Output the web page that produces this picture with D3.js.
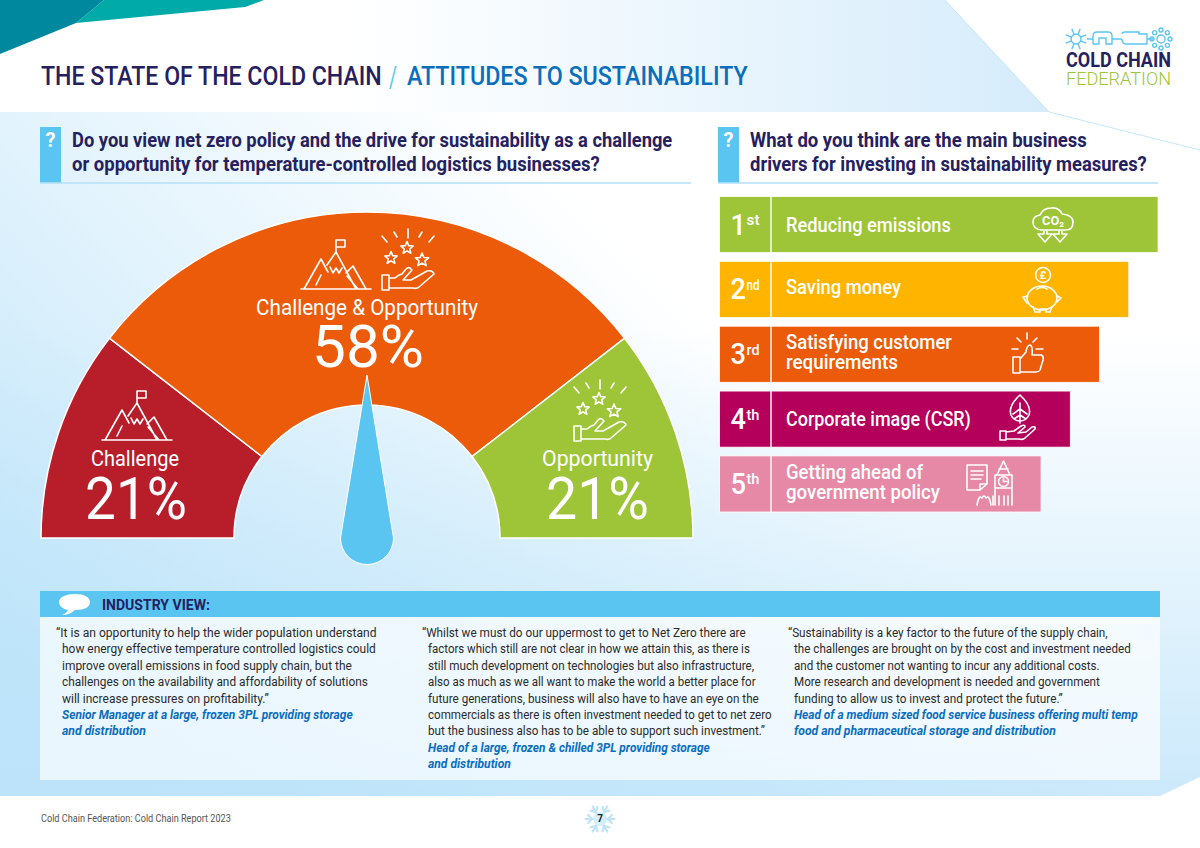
<!DOCTYPE html>
<html><head><meta charset="utf-8">
<script src="https://cdnjs.cloudflare.com/ajax/libs/d3/7.8.5/d3.min.js"></script>
<style>html,body{margin:0;padding:0;background:#fff;overflow:hidden}svg{display:block}text{font-family:Roboto,"Noto Sans",sans-serif}</style>
</head><body><svg id="c" width="1200" height="848"></svg>
<script>
// ---------- DATA ----------
const gaugeLabels = ["Challenge", "Challenge & Opportunity", "Opportunity"];
const gaugeValues = [21, 58, 21];
const gaugeColors = ["#b81d2a", "#eb5b0a", "#9dc537"];
const driverRanks = ["1", "2", "3", "4", "5"];
const driverSuffix = ["st", "nd", "rd", "th", "th"];
const driverLabels = [["Reducing emissions"], ["Saving money"], ["Satisfying customer", "requirements"], ["Corporate image (CSR)"], ["Getting ahead of", "government policy"]];
const driverScores = [15, 14, 13, 12, 11];
const driverColors = ["#9dc537", "#ffb500", "#eb5b0a", "#b5005b", "#e689a6"];
const quoteLines = [
 ["\u201CIt is an opportunity to help the wider population understand","how energy effective temperature controlled logistics could","improve overall emissions in food supply chain, but the","challenges on the availability and affordability of solutions","will increase pressures on profitability.\u201D"],
 ["\u201CWhilst we must do our uppermost to get to Net Zero there are","factors which still are not clear in how we attain this, as there is","still much development on technologies but also infrastructure,","also as much as we all want to make the world a better place for","future generations, business will also have to have an eye on the","commercials as there is often investment needed to get to net zero","but the business also has to be able to support such investment.\u201D"],
 ["\u201CSustainability is a key factor to the future of the supply chain,","the challenges are brought on by the cost and investment needed","and the customer not wanting to incur any additional costs.","More research and development is needed and government","funding to allow us to invest and protect the future.\u201D"]
];
const quoteAuthors = [
 ["Senior Manager at a large, frozen 3PL providing storage","and distribution"],
 ["Head of a large, frozen & chilled 3PL providing storage","and distribution"],
 ["Head of a medium sized food service business offering multi temp","food and pharmaceutical storage and distribution"]
];
// ---------- LAYOUT (measured widths, separate from data) ----------
const quoteWidths = [[321,314,290,306,207],[324,322,326,328,331,344,337],[320,337,306,306,269]];
const authorWidths = [[291,84],[282,83],[344,262]];
const quoteX = [56,422,788];
const driverWidths = [[165],[115],[166,112],[185],[137,154]];
const driverLabelDy = [7,5,5,7,5];

const NAVY="#25215f", SKY="#5bc5f2", BLUE="#0a6ebd";
const svg=d3.select("#c");
const defs=svg.append("defs");
function lin(id,x1,y1,x2,y2,stops){const g=defs.append("linearGradient").attr("id",id).attr("gradientUnits","userSpaceOnUse").attr("x1",x1).attr("y1",y1).attr("x2",x2).attr("y2",y2);
 stops.forEach(s=>g.append("stop").attr("offset",s[0]).attr("stop-color",s[1]).attr("stop-opacity",s[2]));}
lin("gTop",350,0,1040,0,[[0,"#ffffff",1],[1,"#d6ecfb",1]]);
lin("gV",0,800,0,330,[[0,"#cbe9fb",1],[1,"#cbe9fb",0]]);
lin("gH",0,640,520,130,[[0,"#b9e2f9",.85],[1,"#b9e2f9",0]]);
const mainPoly="0,112 1049,112 1200,150 1200,777 1160,796 0,796";
svg.append("rect").attr("width",1200).attr("height",848).attr("fill","#fff");
svg.append("polygon").attr("points","0,0 945,0 1049,112 0,112").attr("fill","url(#gTop)");
svg.append("polygon").attr("points",mainPoly).attr("fill","url(#gV)");
svg.append("polygon").attr("points",mainPoly).attr("fill","url(#gH)");
svg.append("polyline").attr("points","945,0 1049,112 1200,150").attr("fill","none").attr("stroke","#c4e6f9").attr("stroke-width",1);
svg.append("polygon").attr("points","0,0 104,0 76,23 0,54").attr("fill","#00889f");
svg.append("polygon").attr("points","104,0 264,0 245,7 76,23").attr("fill","#00aaa8");

function txt(p,s,x,y,size,w,o={}){
 const t=p.append("text").attr("font-size",size).attr("fill",o.fill||NAVY)
  .attr("font-weight",o.weight||400).attr("text-anchor",o.anchor||"start").text(s);
 if(o.italic)t.attr("font-style","italic");
 const sx=w?w/t.node().getComputedTextLength():1;
 t.attr("transform",`translate(${x},${y}) scale(${sx},1)`);
 return t;
}
// ---------- Title ----------
txt(svg,"THE STATE OF THE COLD CHAIN",41,85,26.5,341,{weight:500});
txt(svg,"/",389,87,29,8,{fill:SKY,weight:400});
txt(svg,"ATTITUDES TO SUSTAINABILITY",407,85,26.5,341,{fill:BLUE,weight:500});
// ---------- Logo ----------
function logo(){
 const g=svg.append("g").attr("fill","none").attr("stroke",SKY).attr("stroke-width",1.4);
 const fl=(cx,cy,r,n)=>{for(let i=0;i<n;i++){const a=i*2*Math.PI/n+Math.PI/8;g.append("line").attr("x1",cx+Math.cos(a)*r*.45).attr("y1",cy+Math.sin(a)*r*.45).attr("x2",cx+Math.cos(a)*r).attr("y2",cy+Math.sin(a)*r);}
  g.append("circle").attr("cx",cx).attr("cy",cy).attr("r",r*.45);};
 fl(1076,39,11,8);
 [0,1,2,3,4,5,6,7].forEach(i=>{const a=i*Math.PI/4;g.append("circle").attr("cx",1161+Math.cos(a)*9).attr("cy",39+Math.sin(a)*9).attr("r",2);});
 g.append("circle").attr("cx",1161).attr("cy",39).attr("r",4);
 g.append("path").attr("d","M1087,39H1093M1093,44V36Q1093,32 1097,32H1108Q1112,32 1112,36V44H1106V38H1099V44H1093M1112,39H1122M1122,34Q1122,32 1125,32H1139V34H1147V44H1126Q1122,44 1122,39M1147,39H1153");
 txt(svg,"COLD CHAIN",1066,67,19.5,105,{weight:700});
 txt(svg,"FEDERATION",1066,85,19,105,{fill:"#9dc537",weight:300});
}
logo();
// ---------- Question headers ----------
function question(x,xEnd,tx,lines,widths){
 svg.append("rect").attr("x",x).attr("y",127).attr("width",21).attr("height",56).attr("fill",SKY);
 svg.append("line").attr("x1",x).attr("x2",xEnd).attr("y1",183).attr("y2",183).attr("stroke","#b5e1f8").attr("stroke-width",1.5);
 txt(svg,"?",x+10.5,147,20,null,{fill:"#fff",weight:700,anchor:"middle"});
 lines.forEach((l,i)=>txt(svg,l,tx,147+i*24,19.5,widths[i],{weight:700}));
}
question(40,691,72,["Do you view net zero policy and the drive for sustainability as a challenge","or opportunity for temperature-controlled logistics businesses?"],[601,528]);
question(718,1158,750,["What do you think are the main business","drivers for investing in sustainability measures?"],[337,397]);
// ---------- Icons ----------
function ic(x,y,s){return svg.append("g").attr("transform",`translate(${x},${y}) scale(${s})`).attr("fill","none").attr("stroke","#fff").attr("stroke-width",1.6/s).attr("stroke-linejoin","round").attr("stroke-linecap","round");}
function star(g,cx,cy,r){const p=[];for(let i=0;i<10;i++){const a=-Math.PI/2+i*Math.PI/5,q=i%2?r*.45:r;p.push([cx+Math.cos(a)*q,cy+Math.sin(a)*q]);}g.append("path").attr("d",d3.line()(p)+"Z");}
function mountain(x,y){const g=ic(x,y,1);
 g.append("path").attr("d","M1,49H71M4,49L21,19L28,32M21,35L16,45M27,25L36,12L56,49M30,27L33,33L36,28L39,33L42,28M46,33L53,26L66,49M47,36L58,49M36,12V0H45V7H36");}
function hand(x,y){const g=ic(x,y,1);
 g.append("path").attr("d","M27,0V9M13,3L16,8M41,3L38,8M1,7L6,13M53,7L48,13");
 star(g,26,19,6.5);star(g,10,29,6.5);star(g,41,31,7);
 g.append("path").attr("d","M1,46H8V61H1ZM8,49H14Q17,46 21,45L25,40Q27,38 29,39L31,41L22,51H30L46,42Q52,41 53,45L38,58Q36,60 32,59H8");
}
function cloud(){const g=ic(1033,207,1);
 g.append("path").attr("d","M8,23Q0,22 0,15Q0,9 7,8Q10,1 18,1Q26,0 29,7Q40,8 40,15Q40,23 33,23Z");
 g.append("path").attr("d","M11,24V27H5L12,35L19,27H14V24M26,24V27H20L27,35L34,27H29V24");
 txt(g,"CO\u2082",20,18,12,22,{fill:"#fff",weight:700,anchor:"middle"}).attr("stroke","none");
}
function piggy(){const g=ic(1023,267,1);
 g.append("circle").attr("cx",20).attr("cy",8).attr("r",7.5);
 txt(g,"\u00A3",20,12,11,null,{fill:"#fff",weight:700,anchor:"middle"}).attr("stroke","none");
 g.append("ellipse").attr("cx",19).attr("cy",31).attr("rx",15).attr("ry",12);
 g.append("path").attr("d","M14,22Q19,19 24,22M5,29L0,30L4,36M34,29L38,31L34,35M10,40L12,45H17V42H23V45H27L29,40");
}
function thumb(){const g=ic(1012,333,1);
 g.append("path").attr("d","M15,0V6M5,5L9,9M25,5L21,9M0,16H6M24,16H31");
 g.append("path").attr("d","M1,24H8V40H1ZM8,26L14,19Q15,12 18,12Q21,13 20,22H29Q32,23 31,27L28,37Q27,39 24,39H8");
}
function leaf(){const g=ic(999,395,1);
 g.append("path").attr("d","M21,0Q9,11 12,20Q15,26 21,26Q27,26 30,20Q33,11 21,0ZM21,8V28M21,14L14,19M21,14L28,19M21,20L15,24M21,20L27,24");
 g.append("path").attr("d","M1,36H7V45H1ZM7,37L15,36L22,31Q26,29 26,32L19,38L27,37L33,32Q37,31 36,34L26,43Q24,45 20,44H7");
}
function ben(){const g=ic(966,460,1);
 g.append("path").attr("d","M1,5H21V24L14,30H1ZM14,30V24H21M5,11H17M5,15H17M5,19H15");
 g.append("path").attr("d","M29,15V28H46V15ZM31,15L37.5,1L44,15M29,28V45M46,28V45M33,9H42");
 g.append("circle").attr("cx",37.5).attr("cy",21.5).attr("r",5);
 g.append("path").attr("d","M37.5,18V21.5H41M11,45Q13,34 16,38Q18,34 20,38Q23,34 25,45M27,45V36M33,45V36M38,45V36M42,45V36");
}
// ---------- Gauge ----------
const cx=367,cy=538;
const pie=d3.pie().sort(null).startAngle(-Math.PI/2).endAngle(Math.PI/2);
const arc=d3.arc().innerRadius(133).outerRadius(326);
const gauge=svg.append("g").attr("transform",`translate(${cx},${cy})`);
gauge.selectAll("path").data(pie(gaugeValues)).join("path").attr("d",arc).attr("fill",(d,i)=>gaugeColors[i]).attr("stroke","#fff").attr("stroke-width",1.5);
gauge.append("path").attr("d","M0,-163L-26.5,0A26.5,26.5 0 0 0 26.5,0Z").attr("fill",SKY).attr("stroke","#fff").attr("stroke-width",1);
txt(svg,gaugeLabels[1],367,315,22,222,{fill:"#fff",anchor:"middle"});
txt(svg,gaugeValues[1]+"%",368,367,60,112,{fill:"#fff",anchor:"middle"});
txt(svg,gaugeLabels[0],135,466,22,88,{fill:"#fff",anchor:"middle"});
txt(svg,gaugeValues[0]+"%",136,519,60,102,{fill:"#fff",anchor:"middle"});
txt(svg,gaugeLabels[2],597.5,466,22,111,{fill:"#fff",anchor:"middle"});
txt(svg,gaugeValues[2]+"%",597.5,519,60,103,{fill:"#fff",anchor:"middle"});
mountain(300,240);mountain(101,391);hand(381,229);hand(573,380);
// ---------- Drivers ----------
const xB=d3.scaleLinear().domain([0,15]).range([719.5,1158]);
const yB=d3.scaleBand().domain(driverRanks).range([196.5,512]).paddingInner(.135);
const bars=svg.append("g");
driverRanks.forEach((r,i)=>{
 const y=yB(r),h=yB.bandwidth();
 bars.append("rect").attr("x",xB(0)).attr("y",y).attr("width",xB(driverScores[i])-xB(0)).attr("height",h).attr("fill",driverColors[i]).attr("stroke","#fff").attr("stroke-width",.8);
 bars.append("line").attr("x1",771).attr("x2",771).attr("y1",y).attr("y2",y+h).attr("stroke","#fff").attr("stroke-width",1.4);
 const base=y+h/2;
 txt(bars,r,730.5,base+10,30,15.5,{fill:"#fff",weight:500});
 txt(bars,driverSuffix[i],746.5,base+.5,15,13,{fill:"#fff",weight:500});
 const L=driverLabels[i];
 L.forEach((l,k)=>txt(bars,l,786,base+driverLabelDy[i]+(k-(L.length-1)/2)*20,20,driverWidths[i][k],{fill:"#fff",weight:500}));
});
cloud();piggy();thumb();leaf();ben();
// ---------- Industry view ----------
svg.append("rect").attr("x",40).attr("y",617).attr("width",1120).attr("height",163).attr("fill","#fff").attr("opacity",.68);
svg.append("rect").attr("x",40).attr("y",591).attr("width",1120).attr("height",26).attr("fill",SKY);
svg.append("path").attr("d","M75,594C66,594 59,597 59,602C59,606 63,609 68,610C67,612 65,614 62,615C67,615 72,613 75,610C85,610 90,607 90,602C90,597 84,594 75,594Z").attr("fill","#fff");
txt(svg,"INDUSTRY VIEW:",102,610,15,108,{weight:700});
const QL=16.4;
quoteLines.forEach((lines,c)=>{
 lines.forEach((l,i)=>txt(svg,l,quoteX[c]+(i?6:0),637+i*QL,12.8,quoteWidths[c][i],{fill:"#2b2b2b"}));
 quoteAuthors[c].forEach((l,i)=>txt(svg,l,quoteX[c]+6,637+(lines.length+i)*QL,12.8,authorWidths[c][i],{fill:BLUE,weight:700,italic:true}));
});
// ---------- Footer ----------
txt(svg,"Cold Chain Federation: Cold Chain Report 2023",41,822,10.5,190,{fill:"#555"});
const sf=svg.append("g").attr("transform","translate(600,819)").attr("stroke","#bfe3f8").attr("stroke-width",2.2).attr("stroke-linecap","round");
d3.range(6).forEach(i=>{const a=i*Math.PI/3,c=Math.cos(a),s=Math.sin(a);
 sf.append("line").attr("x1",0).attr("y1",0).attr("x2",c*14.5).attr("y2",s*14.5);
 [-1,1].forEach(k=>{const b=a+k*.8;sf.append("line").attr("x1",c*8).attr("y1",s*8).attr("x2",c*8+Math.cos(b)*5.5).attr("y2",s*8+Math.sin(b)*5.5);});});
sf.append("circle").attr("r",7).attr("fill","#d5eefb").attr("stroke","none");
txt(svg,"7",600,822,10,null,{anchor:"middle",fill:"#222",weight:700});
</script></body></html>
